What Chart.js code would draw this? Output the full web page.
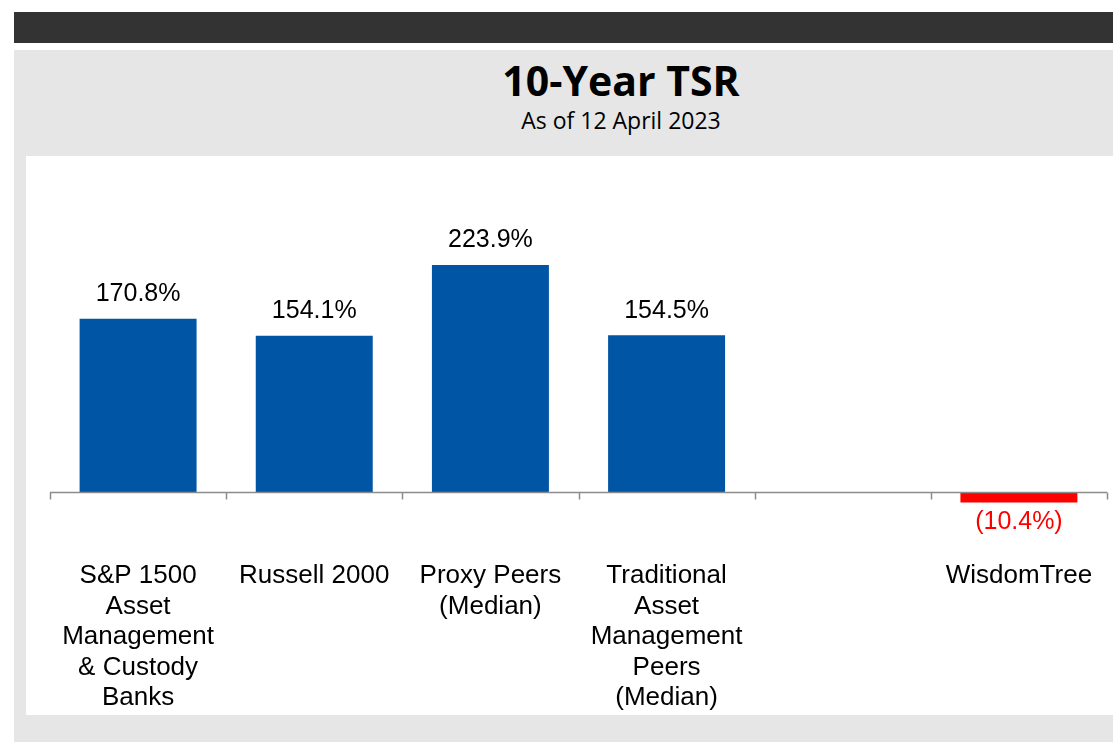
<!DOCTYPE html>
<html>
<head>
<meta charset="utf-8">
<script src="https://cdn.jsdelivr.net/npm/chart.js@4.4.0/dist/chart.umd.min.js"></script>
<style>
  html, body { margin: 0; padding: 0; background: #fff; }
  body { width: 1113px; height: 742px; position: relative; overflow: hidden; }
  #topbar { position: absolute; left: 14px; top: 12px; width: 1099px; height: 31px; background: #333333; }
  #panel { position: absolute; left: 14px; top: 50px; width: 1099px; height: 692px; background: #e6e6e6; }
  #title { position: absolute; left: 321px; width: 600px; top: 52px; text-align: center; line-height: 56px;
           font-family: "Open Sans", "Noto Sans", sans-serif; font-weight: bold; font-size: 41px; color: #000; }
  #subtitle { position: absolute; left: 321px; width: 600px; top: 105px; text-align: center; line-height: 30px;
              font-family: "Open Sans", "Noto Sans", sans-serif; font-size: 23px; color: #000; }
  #plot { position: absolute; left: 26px; top: 156px; width: 1087px; height: 559px; background: #fff; }
  #plot canvas { display: block; }
</style>
</head>
<body>
<div id="topbar"></div>
<div id="panel"></div>
<div id="title">10-Year TSR</div>
<div id="subtitle">As of 12 April 2023</div>
<div id="plot"><canvas id="tsr-chart" width="1087" height="559"></canvas></div>
<script>
const categories = [
  ["S&P 1500", "Asset", "Management", "& Custody", "Banks"],
  ["Russell 2000"],
  ["Proxy Peers", "(Median)"],
  ["Traditional", "Asset", "Management", "Peers", "(Median)"],
  [""],
  ["WisdomTree"]
];
const tsrValues = [170.8, 154.1, 223.9, 154.5, null, -10.4];

const BLUE = "#0055a5";
const RED = "#ff0000";

function fmtPct(v) {
  return v < 0 ? "(" + Math.abs(v).toFixed(1) + "%)" : v.toFixed(1) + "%";
}

// zero axis line with category tick marks
const zeroAxis = {
  id: "zeroAxis",
  afterDatasetsDraw(chart) {
    const { ctx, chartArea, scales: { y } } = chart;
    const y0 = Math.round(y.getPixelForValue(0)) + 0.5;
    const step = (chartArea.right - chartArea.left) / categories.length;
    ctx.save();
    ctx.strokeStyle = "#8c8c8c";
    ctx.lineWidth = 1.5;
    ctx.beginPath();
    ctx.moveTo(chartArea.left, y0);
    ctx.lineTo(chartArea.right, y0);
    for (let i = 0; i <= categories.length; i++) {
      const px = Math.round(chartArea.left + i * step) + 0.5;
      ctx.moveTo(px, y0);
      ctx.lineTo(px, y0 + 7);
    }
    ctx.stroke();
    ctx.restore();
  }
};

// value labels above / below bars
const valueLabels = {
  id: "valueLabels",
  afterDatasetsDraw(chart) {
    const { ctx } = chart;
    const meta = chart.getDatasetMeta(0);
    ctx.save();
    ctx.font = "25px 'Liberation Sans', Arial, sans-serif";
    ctx.textAlign = "center";
    meta.data.forEach((bar, i) => {
      const v = tsrValues[i];
      if (v == null) return;
      if (v >= 0) {
        ctx.fillStyle = "#000";
        ctx.textBaseline = "bottom";
        ctx.fillText(fmtPct(v), bar.x, bar.y - 12);
      } else {
        ctx.fillStyle = RED;
        ctx.textBaseline = "top";
        ctx.fillText(fmtPct(v), bar.x, bar.y + 7);
      }
    });
    ctx.restore();
  }
};

new Chart(document.getElementById("tsr-chart"), {
  type: "bar",
  data: {
    labels: categories,
    datasets: [{
      data: tsrValues,
      backgroundColor: tsrValues.map(v => v < 0 ? RED : BLUE),
      barPercentage: 0.664,
      categoryPercentage: 1.0
    }]
  },
  options: {
    responsive: false,
    animation: false,
    devicePixelRatio: 1,
    layout: { padding: { left: 24, right: 6, top: 32, bottom: 4 } },
    plugins: { legend: { display: false }, tooltip: { enabled: false } },
    scales: {
      x: {
        grid: { display: false },
        border: { display: false },
        afterFit(scale) { scale.height = 166; },
        ticks: {
          color: "#000",
          padding: 8,
          maxRotation: 0,
          autoSkip: false,
          font: { family: "'Liberation Sans', Arial, sans-serif", size: 26, lineHeight: 1.173 }
        }
      },
      y: {
        display: false,
        min: -52.3,
        max: 299.8
      }
    }
  },
  plugins: [zeroAxis, valueLabels]
});
</script>
</body>
</html>
